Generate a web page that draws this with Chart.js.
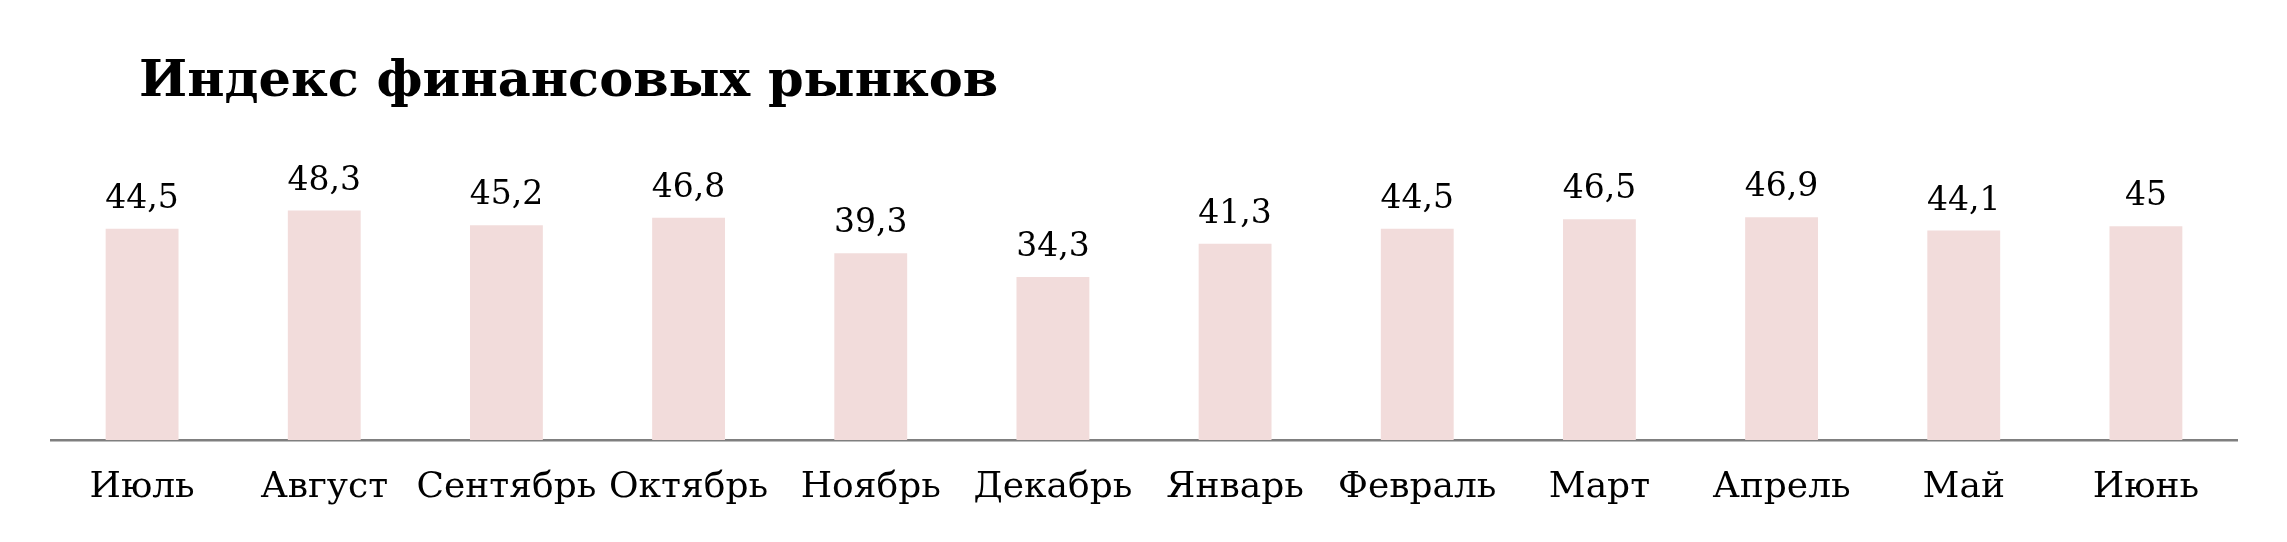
<!DOCTYPE html>
<html>
<head>
<meta charset="utf-8">
<script src="https://cdn.jsdelivr.net/npm/chart.js@4.4.0/dist/chart.umd.min.js"></script>
<style>
    html, body { margin: 0; padding: 0; background: #fff; }
    #wrap { width: 2287px; height: 542px; position: relative; }
</style>
</head>
<body>
<div id="wrap"><canvas id="indexChart"></canvas></div>
<script>
// Chart data
const chartTitle = 'Индекс финансовых рынков';
const months = ['Июль', 'Август', 'Сентябрь', 'Октябрь', 'Ноябрь', 'Декабрь',
    'Январь', 'Февраль', 'Март', 'Апрель', 'Май', 'Июнь'];
const indexValues = [44.5, 48.3, 45.2, 46.8, 39.3, 34.3, 41.3, 44.5, 46.5, 46.9, 44.1, 45];

const FONT = '"DejaVu Serif", "Liberation Serif", serif';

// Title drawn left of the plot, offset from the axis start
const titlePlugin = {
    id: 'leftTitle',
    afterDraw(chart) {
        const ctx = chart.ctx;
        ctx.save();
        ctx.font = 'bold 51px ' + FONT;
        ctx.fillStyle = '#000';
        ctx.textAlign = 'left';
        ctx.textBaseline = 'alphabetic';
        ctx.fillText(chartTitle, 139, 96);
        ctx.restore();
    }
};

// Value labels above each bar (comma decimal separator)
const valueLabels = {
    id: 'valueLabels',
    afterDatasetsDraw(chart) {
        const ctx = chart.ctx;
        const meta = chart.getDatasetMeta(0);
        ctx.save();
        ctx.font = '33px ' + FONT;
        ctx.fillStyle = '#000';
        ctx.textAlign = 'center';
        ctx.textBaseline = 'alphabetic';
        meta.data.forEach((bar, i) => {
            const text = String(indexValues[i]).replace('.', ',');
            ctx.fillText(text, bar.x, bar.y - 21);
        });
        ctx.restore();
    }
};

const ctx = document.getElementById('indexChart').getContext('2d');
new Chart(ctx, {
    type: 'bar',
    data: {
        labels: months,
        datasets: [{
            data: indexValues,
            backgroundColor: '#f2dcdb',
            borderWidth: 0,
            categoryPercentage: 1,
            barPercentage: 0.4
        }]
    },
    options: {
        responsive: true,
        maintainAspectRatio: false,
        animation: false,
        devicePixelRatio: 1,
        layout: {
            padding: { top: 155, left: 51, right: 50, bottom: 0 }
        },
        scales: {
            x: {
                grid: { display: false, drawTicks: false },
                border: { display: true, color: '#7f7f7f', width: 2.5 },
                ticks: {
                    color: '#000',
                    font: { family: FONT, size: 36 },
                    padding: 26,
                    maxRotation: 0,
                    autoSkip: false
                },
                afterFit(scale) { scale.height = 102; }
            },
            y: {
                display: false,
                min: 0,
                max: 60
            }
        },
        plugins: {
            legend: { display: false },
            tooltip: { enabled: false },
            title: { display: false }
        }
    },
    plugins: [titlePlugin, valueLabels]
});
</script>
</body>
</html>
